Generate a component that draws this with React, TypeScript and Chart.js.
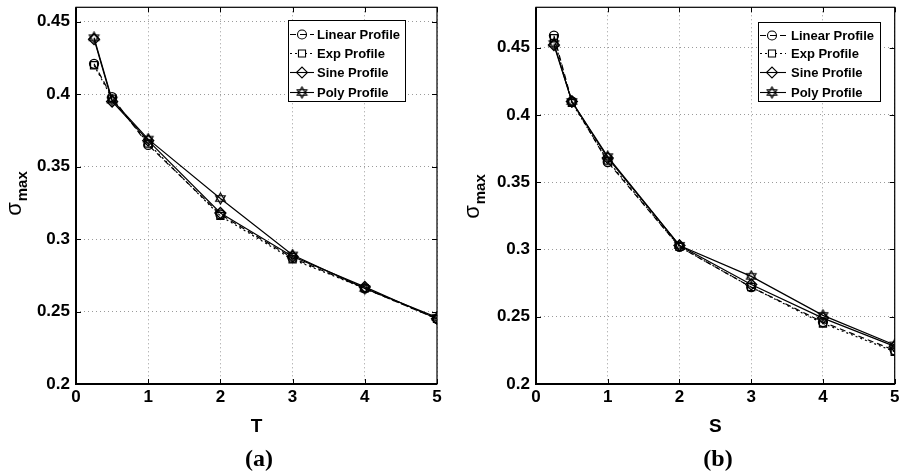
import React, { useEffect, useRef } from "react";
import { Chart, registerables } from "chart.js";
Chart.register(...registerables);

// ---------- data ----------
const xValues = [0.25, 0.5, 1, 2, 3, 4, 5];
const seriesNames = ["Linear Profile", "Exp Profile", "Sine Profile", "Poly Profile"];

// (a) sigma_max vs T
const tLinear = [0.421, 0.398, 0.365, 0.317, 0.287, 0.266, 0.245];
const tExp = [0.420, 0.397, 0.366, 0.316, 0.286, 0.266, 0.245];
const tSine = [0.438, 0.395, 0.368, 0.318, 0.288, 0.267, 0.245];
const tPoly = [0.439, 0.396, 0.369, 0.328, 0.289, 0.266, 0.246];

// (b) sigma_max vs S
const sLinear = [0.459, 0.410, 0.365, 0.302, 0.272, 0.246, 0.225];
const sExp = [0.457, 0.409, 0.366, 0.302, 0.272, 0.245, 0.224];
const sSine = [0.452, 0.410, 0.368, 0.303, 0.274, 0.249, 0.228];
const sPoly = [0.453, 0.410, 0.369, 0.303, 0.280, 0.251, 0.229];

const xTicks = [0, 1, 2, 3, 4, 5];
const yTicks = [0.2, 0.25, 0.3, 0.35, 0.4, 0.45];

const FONT = '"Liberation Sans", Arial, Helvetica, sans-serif';

function makeHexagram(): HTMLCanvasElement {
  const c = document.createElement("canvas");
  c.width = 13;
  c.height = 13;
  const g = c.getContext("2d")!;
  g.strokeStyle = "#000";
  g.lineWidth = 1.2;
  const cx = 6.5, cy = 6.5, r = 5.5;
  for (let k = 0; k < 2; k++) {
    g.beginPath();
    for (let i = 0; i < 3; i++) {
      const ang = -Math.PI / 2 + k * Math.PI + (i * 2 * Math.PI) / 3;
      const px = cx + r * Math.cos(ang);
      const py = cy + r * Math.sin(ang);
      if (i === 0) g.moveTo(px, py);
      else g.lineTo(px, py);
    }
    g.closePath();
    g.stroke();
  }
  return c;
}

const styles = [
  { dash: [6, 4], point: "circle", radius: 4.5 },
  { dash: [2, 3], point: "rect", radius: 5 },
  { dash: [], point: "rectRot", radius: 5.5 },
  { dash: [], point: "hex", radius: 6 },
];

const framePlugin = {
  id: "matlabFrame",
  afterDraw(chart: any, _args: any, opts: any) {
    const { ctx, chartArea: a, scales } = chart;
    ctx.save();
    // frame
    ctx.strokeStyle = "#000";
    ctx.setLineDash([]);
    ctx.lineWidth = 1.2;
    ctx.strokeRect(a.left, a.top, a.right - a.left, a.bottom - a.top);
    ctx.lineWidth = 2;
    ctx.beginPath();
    ctx.moveTo(a.left, a.top);
    ctx.lineTo(a.left, a.bottom);
    ctx.lineTo(a.right, a.bottom);
    ctx.stroke();
    // inward ticks
    ctx.lineWidth = 1;
    ctx.beginPath();
    scales.x.ticks.forEach((t: any) => {
      const px = Math.round(scales.x.getPixelForValue(t.value)) + 0.5;
      ctx.moveTo(px, a.bottom);
      ctx.lineTo(px, a.bottom - 5);
      ctx.moveTo(px, a.top);
      ctx.lineTo(px, a.top + 5);
    });
    scales.y.ticks.forEach((t: any) => {
      const py = Math.round(scales.y.getPixelForValue(t.value)) + 0.5;
      ctx.moveTo(a.left, py);
      ctx.lineTo(a.left + 5, py);
      ctx.moveTo(a.right, py);
      ctx.lineTo(a.right - 5, py);
    });
    ctx.stroke();

    // legend
    const L = opts.legend;
    ctx.fillStyle = "#fff";
    ctx.fillRect(L.x0, L.y0, L.x1 - L.x0, L.y1 - L.y0);
    ctx.strokeStyle = "#000";
    ctx.lineWidth = 1;
    ctx.strokeRect(L.x0 + 0.5, L.y0 + 0.5, L.x1 - L.x0, L.y1 - L.y0);
    ctx.font = `bold 13px ${FONT}`;
    ctx.textBaseline = "middle";
    ctx.textAlign = "left";
    seriesNames.forEach((name, i) => {
      const y = L.rows[i] + 0.5;
      const st = styles[i];
      ctx.strokeStyle = "#000";
      ctx.lineWidth = 1.1;
      ctx.setLineDash(st.dash);
      ctx.beginPath();
      ctx.moveTo(L.lineStart, y);
      ctx.lineTo(L.lineEnd, y);
      ctx.stroke();
      ctx.setLineDash([]);
      const mx = L.marker;
      ctx.beginPath();
      if (st.point === "circle") {
        ctx.arc(mx, y, st.radius, 0, Math.PI * 2);
        ctx.stroke();
      } else if (st.point === "rect") {
        const s = st.radius * Math.SQRT1_2;
        ctx.fillStyle = "#fff";
        ctx.rect(mx - s, y - s, 2 * s, 2 * s);
        ctx.fill();
        ctx.stroke();
      } else if (st.point === "rectRot") {
        const r = st.radius;
        ctx.moveTo(mx - r, y);
        ctx.lineTo(mx, y - r);
        ctx.lineTo(mx + r, y);
        ctx.lineTo(mx, y + r);
        ctx.closePath();
        ctx.stroke();
      } else {
        const img = opts.hex;
        ctx.drawImage(img, mx - img.width / 2, y - img.height / 2);
      }
      ctx.fillStyle = "#000";
      ctx.fillText(name, L.text, L.rows[i] + 1);
    });

    // y title: sigma_max
    const T = opts.ytitle;
    ctx.translate(T.x, T.y);
    ctx.rotate(-Math.PI / 2);
    ctx.fillStyle = "#000";
    ctx.textBaseline = "alphabetic";
    ctx.font = `22px ${FONT}`;
    const w1 = ctx.measureText("σ").width;
    ctx.font = `bold 15px ${FONT}`;
    const w2 = ctx.measureText("max").width;
    const start = -(w1 + w2) / 2;
    ctx.font = `22px ${FONT}`;
    ctx.fillText("σ", start, 0);
    ctx.font = `bold 15px ${FONT}`;
    ctx.fillText("max", start + w1 + 1, 6);
    ctx.restore();
  },
};

function buildChart(canvas: HTMLCanvasElement, cfg: any, hex: HTMLCanvasElement) {
  const pointStyles: any[] = styles.map((s) => (s.point === "hex" ? hex : s.point));
  const datasets = cfg.series.map((vals: number[], i: number) => ({
    label: seriesNames[i],
    data: xValues.map((x, j) => ({ x, y: vals[j] })),
    borderColor: "#000",
    borderWidth: 1.2,
    borderDash: styles[i].dash,
    pointStyle: pointStyles[i],
    pointRadius: styles[i].radius,
    pointBorderColor: "#000",
    pointBorderWidth: 1.3,
    pointBackgroundColor: "rgba(0,0,0,0)",
    tension: 0,
    fill: false,
  }));
  return new Chart(canvas, {
    type: "line",
    data: { datasets },
    plugins: [framePlugin],
    options: {
      animation: false,
      responsive: false,
      events: [],
      layout: { padding: { top: 5, right: cfg.padRight, left: 0, bottom: 0 } },
      plugins: {
        legend: { display: false },
        tooltip: { enabled: false },
        matlabFrame: { legend: cfg.legend, ytitle: cfg.ytitle, hex },
      } as any,
      scales: {
        x: {
          type: "linear",
          min: 0,
          max: 5,
          afterBuildTicks: (s: any) => {
            s.ticks = xTicks.map((v) => ({ value: v }));
          },
          afterFit: (s: any) => {
            s.height = 89;
            s.paddingLeft = 0;
            s.paddingRight = 0;
            s.paddingTop = 0;
            s.paddingBottom = 0;
          },
          ticks: {
            padding: 3,
            color: "#000",
            font: { family: FONT, size: 17, weight: "bold" },
            callback: (v: any) => String(v),
          },
          grid: { color: "#9a9a9a", lineWidth: 1, drawTicks: false },
          border: { display: false, dash: [1, 3] },
          title: {
            display: true,
            text: cfg.xtitle,
            color: "#000",
            font: { family: FONT, size: 19, weight: "bold" },
            padding: { top: 0, bottom: 35 },
          },
        },
        y: {
          type: "linear",
          min: 0.2,
          max: cfg.ymax,
          afterBuildTicks: (s: any) => {
            s.ticks = yTicks.map((v) => ({ value: v }));
          },
          afterFit: (s: any) => {
            s.width = cfg.yAxisWidth;
            s.paddingTop = 0;
            s.paddingBottom = 0;
            s.paddingLeft = 0;
            s.paddingRight = 0;
          },
          ticks: {
            padding: 6,
            color: "#000",
            font: { family: FONT, size: 17, weight: "bold" },
            callback: (v: any) => String(Number(Number(v).toFixed(2))),
          },
          grid: { color: "#9a9a9a", lineWidth: 1, drawTicks: false },
          border: { display: false, dash: [1, 3] },
        },
      },
    } as any,
  });
}

const chartA = {
  series: [tLinear, tExp, tSine, tPoly],
  ymax: 0.46,
  xtitle: "T",
  yAxisWidth: 76,
  padRight: 14,
  legend: { x0: 288, y0: 20, x1: 405, y1: 101, rows: [34, 53, 72, 92], lineStart: 290, lineEnd: 314, marker: 302, text: 317 },
  ytitle: { x: 21, y: 194 },
};

const chartB = {
  series: [sLinear, sExp, sSine, sPoly],
  ymax: 0.48,
  xtitle: "S",
  yAxisWidth: 85,
  padRight: 4,
  legend: { x0: 307, y0: 22, x1: 429, y1: 101, rows: [35, 53, 72, 92], lineStart: 309, lineEnd: 335, marker: 321, text: 340 },
  ytitle: { x: 28, y: 197 },
};

export default function App() {
  const refA = useRef<HTMLCanvasElement>(null);
  const refB = useRef<HTMLCanvasElement>(null);
  useEffect(() => {
    const hex = makeHexagram();
    const a = buildChart(refA.current!, chartA, hex);
    const b = buildChart(refB.current!, chartB, hex);
    return () => {
      a.destroy();
      b.destroy();
    };
  }, []);
  const cap: React.CSSProperties = {
    position: "absolute",
    width: 100,
    textAlign: "center",
    top: 445,
    lineHeight: "26px",
    font: 'bold 24px "Liberation Serif", "Times New Roman", serif',
    color: "#000",
  };
  return (
    <div style={{ position: "fixed", left: 0, top: 0, width: 902, height: 473, background: "#fff", overflow: "hidden" }}>
      <canvas ref={refA} width={451} height={473} style={{ position: "absolute", left: 0, top: 0 }} />
      <canvas ref={refB} width={451} height={473} style={{ position: "absolute", left: 451, top: 0 }} />
      <div style={{ ...cap, left: 209 }}>(a)</div>
      <div style={{ ...cap, left: 668 }}>(b)</div>
    </div>
  );
}
